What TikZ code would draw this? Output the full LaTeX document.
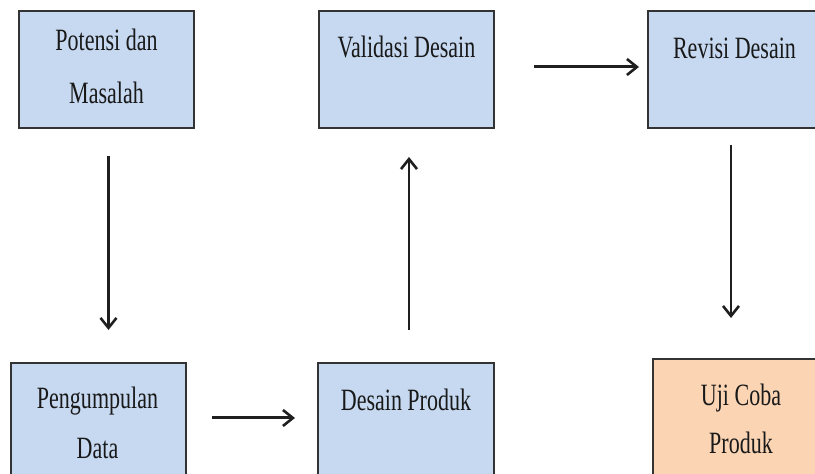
\documentclass[tikz,border=0pt]{standalone}
\usepackage{fontspec}
\setmainfont[FakeStretch=0.71]{Liberation Serif}
\usetikzlibrary{arrows.meta}
\definecolor{boxblue}{HTML}{C6D9F1}
\definecolor{boxorange}{HTML}{FBD4B4}
\definecolor{edgegray}{HTML}{333333}
\begin{document}
\begin{tikzpicture}[x=1pt,y=1pt,
  stepbox/.style={draw=edgegray, line width=2pt, fill=boxblue, minimum width=175pt, minimum height=117pt, inner sep=0pt, anchor=north west},
  txt/.style={font=\fontsize{31}{50}\selectfont, align=center, inner sep=0pt, anchor=north, text=black!90},
  arr/.style={-{Straight Barb[length=10pt,width=16pt,line width=2.6pt]}, line width=2.6pt, black!88}]
\useasboundingbox (0,0) rectangle (815,474);
% boxes
\node[stepbox] (pot) at (18,464) {};
\node[stepbox] (val) at (318,464) {};
\node[stepbox, minimum width=180pt] (rev) at (647,464) {};
\node[stepbox] (peng) at (10,112) {};
\node[stepbox, minimum width=176pt] (des) at (317,112) {};
\node[stepbox, minimum width=176pt, fill=boxorange] (uji) at (652,116) {};
% texts
\node[txt, font=\fontsize{31}{53}\selectfont] (potT) at ([yshift=-19pt]pot.north) {Potensi dan\\Masalah};
\node[txt] (valT) at ([yshift=-26pt]val.north) {Validasi Desain};
\node[txt] (revT) at ([xshift=-3.5pt,yshift=-27.5pt]rev.north) {Revisi Desain};
\node[txt] (pengT) at ([xshift=-1pt,yshift=-25pt]peng.north) {Pengumpulan\\Data};
\node[txt] (desT) at ([yshift=-27pt]des.north) {Desain Produk};
\node[txt, font=\fontsize{31}{48}\selectfont] (ujiT) at ([yshift=-26pt]uji.north) {Uji Coba\\Produk};
% arrows
\draw[arr, shorten <=27pt, shorten >=32pt] ([xshift=2pt]pot.south) -- ([xshift=2pt]pot.south |- peng.north);
\draw[arr, shorten <=25pt, shorten >=22pt, line width=3pt] ([yshift=3.5pt]peng.east) -- ([yshift=3.5pt]peng.east -| des.west);
\draw[arr, shorten <=32pt, shorten >=28pt] ([xshift=3pt]des.north) -- ([xshift=3pt]des.north |- val.south);
\draw[arr, shorten <=39pt, shorten >=8pt, line width=3pt] ([yshift=2.5pt]val.east) -- ([yshift=2.5pt]val.east -| rev.west);
\draw[arr, shorten <=16pt, shorten >=40pt] ([xshift=-7pt]rev.south) -- ([xshift=-7pt]rev.south |- uji.north);
\end{tikzpicture}
\end{document}
